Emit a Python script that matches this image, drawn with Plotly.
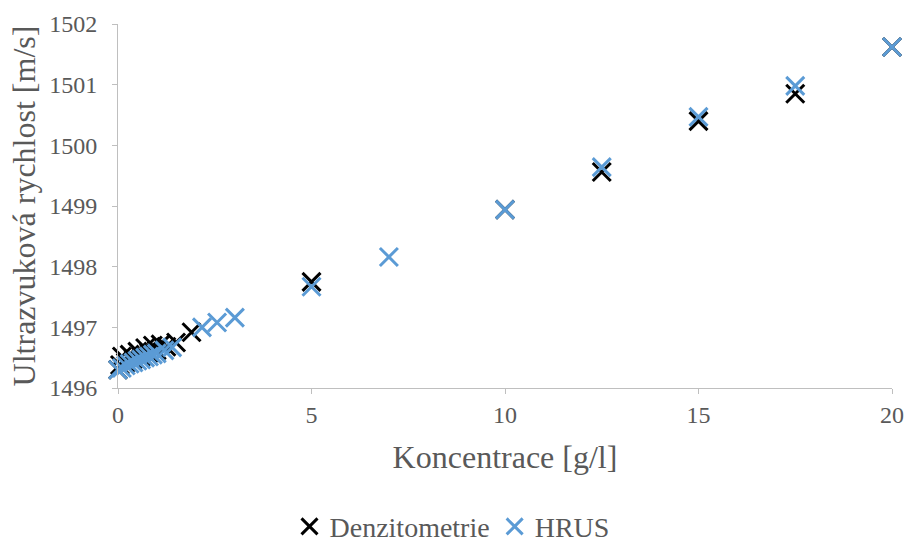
import plotly.graph_objects as go

# Denzitometrie
den_x = [0.0, 0.05, 0.1, 0.2, 0.3, 0.4, 0.5, 0.6, 0.7, 0.8, 0.9, 1.0, 1.1, 1.25, 1.5, 1.9,
         5.0, 10.0, 12.5, 15.0, 17.5, 20.0]
den_y = [1496.3, 1496.38, 1496.52, 1496.42, 1496.55, 1496.48, 1496.6, 1496.52, 1496.66, 1496.58,
         1496.7, 1496.62, 1496.72, 1496.68, 1496.75, 1496.92,
         1497.75, 1498.94, 1499.56, 1500.40, 1500.85, 1501.62]

# HRUS
hrus_x = [0.0, 0.1, 0.2, 0.3, 0.4, 0.5, 0.6, 0.7, 0.8, 0.9, 1.0, 1.2, 1.4, 2.17, 2.56, 3.02,
          5.0, 7.0, 10.0, 12.5, 15.0, 17.5, 20.0]
hrus_y = [1496.3, 1496.33, 1496.37, 1496.4, 1496.42, 1496.45, 1496.47, 1496.5, 1496.52, 1496.55,
          1496.57, 1496.62, 1496.67, 1497.0, 1497.08, 1497.16,
          1497.67, 1498.16, 1498.94, 1499.64, 1500.47, 1500.98, 1501.62]

x_ticks = [0, 5, 10, 15, 20]
y_ticks = [1496, 1497, 1498, 1499, 1500, 1501, 1502]

gray = "#595959"
font = "Liberation Serif"

fig = go.Figure()
fig.add_trace(go.Scatter(
    x=den_x, y=den_y, mode="markers", name="Denzitometrie", cliponaxis=False,
    marker=dict(symbol="x-thin", size=18, line=dict(width=3, color="#000000"), color="#000000"),
))
fig.add_trace(go.Scatter(
    x=hrus_x, y=hrus_y, mode="markers", name="HRUS", cliponaxis=False,
    marker=dict(symbol="x-thin", size=18, line=dict(width=3, color="#5B9BD5"), color="#5B9BD5"),
))

fig.update_layout(
    width=904, height=543,
    margin=dict(l=118, r=12, t=24, b=155, autoexpand=False),
    plot_bgcolor="white", paper_bgcolor="white",
    font=dict(family=font, color=gray),
    showlegend=True,
    legend=dict(orientation="h", x=0.5, xanchor="center", xref="container",
                y=0.03, yanchor="middle", yref="container",
                font=dict(size=28, color=gray, family=font), itemwidth=30,
                tracegroupgap=0),
    xaxis=dict(
        range=[0, 20], tickvals=x_ticks, ticktext=[str(v) for v in x_ticks],
        showgrid=False, zeroline=False, showline=True, linecolor="#BFBFBF", linewidth=1,
        ticks="outside", ticklen=5, tickcolor="#BFBFBF", automargin=False,
        ticklabeloverflow="allow",
        tickfont=dict(size=24, color=gray, family=font),
        title=dict(text="Koncentrace [g/l]", font=dict(size=32, color=gray, family=font), standoff=18),
    ),
    yaxis=dict(
        range=[1496, 1502], tickvals=y_ticks, ticktext=[str(v) for v in y_ticks],
        showgrid=False, zeroline=False, showline=True, linecolor="#BFBFBF", linewidth=1,
        ticks="outside", ticklen=5, tickcolor="#BFBFBF", automargin=False,
        ticklabeloverflow="allow", ticklabelstandoff=10,
        tickfont=dict(size=24, color=gray, family=font),
        title=dict(text="Ultrazvuková rychlost [m/s]", font=dict(size=32, color=gray, family=font), standoff=4),
    ),
)

fig.write_html("out.html")
